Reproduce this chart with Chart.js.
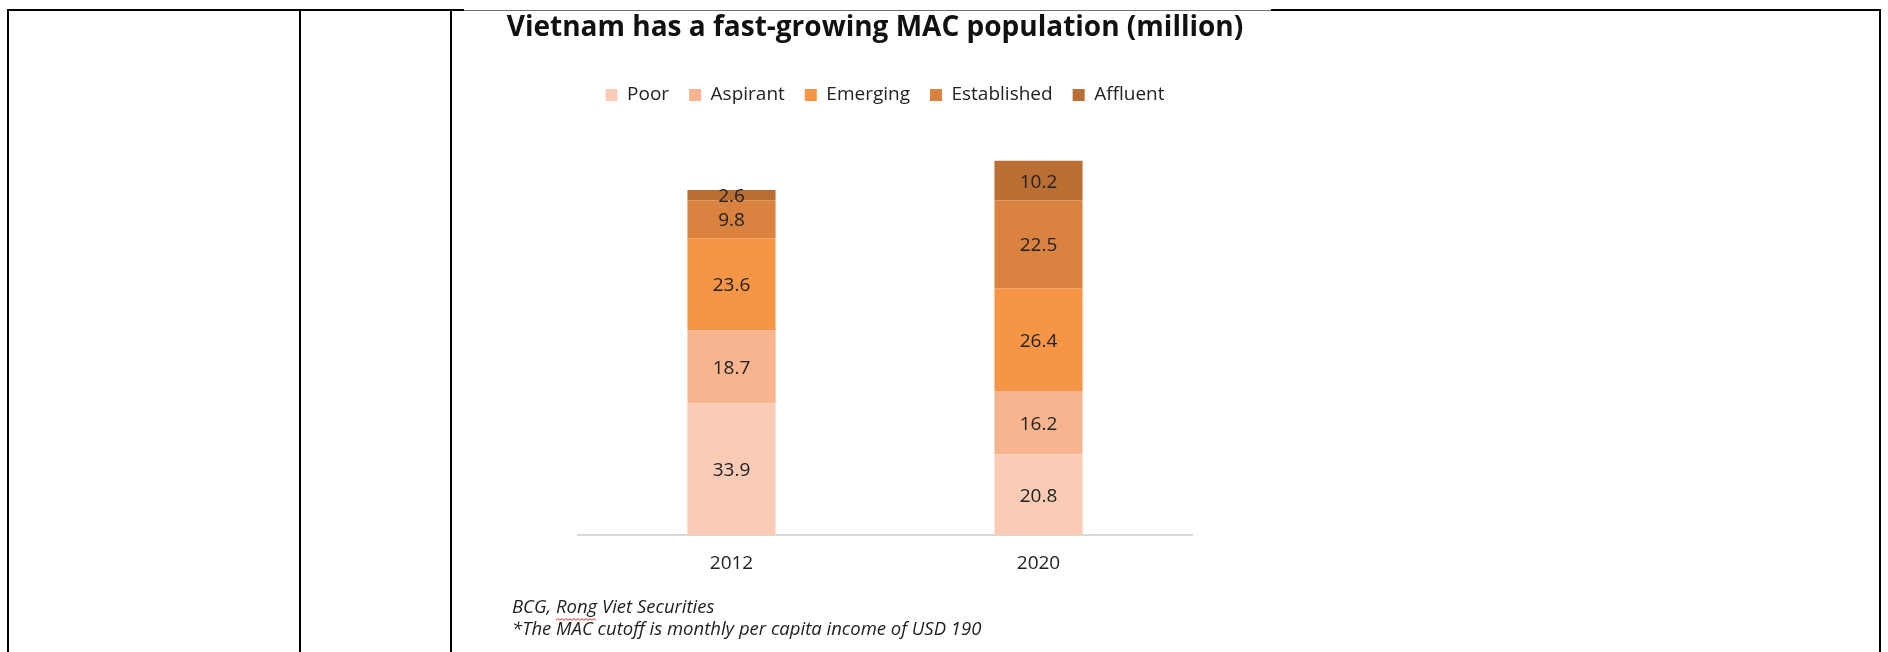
<!DOCTYPE html>
<html>
<head>
<meta charset="utf-8">
<title>Vietnam MAC population</title>
<script src="https://cdn.jsdelivr.net/npm/chart.js@4.4.1/dist/chart.umd.min.js"></script>
<style>
    html, body { margin: 0; padding: 0; background: #fff; }
    body { width: 1888px; height: 652px; position: relative; overflow: hidden; }
    .rule { position: absolute; background: #000; }
    #chartBox { position: absolute; left: 464px; top: 11px; width: 807px; height: 641px; background: #fff; }
</style>
</head>
<body>
<!-- table borders around the pasted chart -->
<div class="rule" style="left:7px;top:9px;width:457px;height:2px"></div>
<div class="rule" style="left:1271px;top:9px;width:610px;height:2px"></div>
<div class="rule" style="left:464px;top:10px;width:807px;height:1px;background:#707070"></div>
<div class="rule" style="left:7px;top:9px;width:2px;height:643px"></div>
<div class="rule" style="left:299px;top:9px;width:2px;height:643px"></div>
<div class="rule" style="left:450px;top:9px;width:2px;height:643px"></div>
<div class="rule" style="left:1879px;top:9px;width:2px;height:643px"></div>

<div id="chartBox"><canvas id="macChart"></canvas></div>

<script>
// Data
const categories = ['2012', '2020'];
const segmentNames = ['Poor', 'Aspirant', 'Emerging', 'Established', 'Affluent'];
const poor = [33.9, 20.8];
const aspirant = [18.7, 16.2];
const emerging = [23.6, 26.4];
const established = [9.8, 22.5];
const affluent = [2.6, 10.2];
const titleText = 'Vietnam has a fast-growing MAC population (million)';
const sourceNotes = ['BCG, Rong Viet Securities', '*The MAC cutoff is monthly per capita income of USD 190'];

// Styles
const segmentColors = ['#FACCB6', '#F8B48E', '#F59545', '#DA8340', '#B96F34'];
const fontFamily = '"Open Sans", "Noto Sans", sans-serif';
const textColor = '#222';

// Values written in the middle of every stacked segment
const segmentLabels = {
    id: 'segmentLabels',
    afterDatasetsDraw(chart) {
        const ctx = chart.ctx;
        ctx.save();
        ctx.font = '19px ' + fontFamily;
        ctx.fillStyle = textColor;
        ctx.textAlign = 'center';
        ctx.textBaseline = 'middle';
        chart.data.datasets.forEach(function(ds, i) {
            chart.getDatasetMeta(i).data.forEach(function(bar, j) {
                const mid = (bar.y + bar.base) / 2;
                ctx.fillText(ds.data[j].toFixed(1), bar.x, mid + 1.5);
            });
        });
        ctx.restore();
    }
};

// Source lines under the axis
const sourceFootnote = {
    id: 'sourceFootnote',
    afterDraw(chart) {
        const ctx = chart.ctx;
        const area = chart.chartArea;
        const x = area.left - 66;
        const top = area.bottom + 73;
        ctx.save();
        ctx.font = 'italic 18.5px ' + fontFamily;
        ctx.fillStyle = textColor;
        ctx.textAlign = 'left';
        ctx.textBaseline = 'middle';
        sourceNotes.forEach(function(line, i) {
            ctx.fillText(line, x, top + i * 22);
        });

        // spell-check squiggle under "Rong"
        const start = x + ctx.measureText('BCG, ').width;
        const end = start + ctx.measureText('Rong').width;
        const y = top + 12;
        ctx.strokeStyle = '#e03030';
        ctx.lineWidth = 1;
        ctx.beginPath();
        ctx.moveTo(start, y);
        let up = true;
        for (let px = start + 2; px <= end; px += 2) {
            ctx.lineTo(px, up ? y - 1.5 : y);
            up = !up;
        }
        ctx.stroke();
        ctx.restore();
    }
};

function drawChart() {
    const series = [poor, aspirant, emerging, established, affluent];
    const datasets = series.map(function(values, i) {
        return {
            label: segmentNames[i],
            data: values,
            backgroundColor: segmentColors[i],
            borderWidth: 0,
            barPercentage: 1,
            categoryPercentage: 0.287
        };
    });

    new Chart(document.getElementById('macChart'), {
        type: 'bar',
        data: { labels: categories, datasets: datasets },
        plugins: [segmentLabels, sourceFootnote],
        options: {
            responsive: true,
            maintainAspectRatio: false,
            animation: false,
            layout: { padding: { top: 0, left: 41, right: 26, bottom: 60 } },
            plugins: {
                title: {
                    display: true,
                    text: titleText,
                    color: '#111',
                    font: { family: fontFamily, size: 28, weight: 'bold', lineHeight: 1 },
                    padding: { top: 3, bottom: 23.5 }
                },
                legend: {
                    display: true,
                    position: 'top',
                    fullSize: false,
                    labels: {
                        boxWidth: 12,
                        boxHeight: 12,
                        padding: 20,
                        color: textColor,
                        font: { family: fontFamily, size: 19 }
                    }
                },
                tooltip: { enabled: false }
            },
            scales: {
                x: {
                    stacked: true,
                    grid: { display: false, drawTicks: false },
                    border: { display: true, color: '#d9d9d9', width: 2 },
                    ticks: { color: textColor, padding: 17, font: { family: fontFamily, size: 19 } }
                },
                y: {
                    stacked: true,
                    min: 0,
                    max: 108,
                    grid: { display: false, drawTicks: false },
                    border: { display: false },
                    ticks: { display: false },
                    afterFit: function(scale) { scale.width = 73; }
                },
                // empty margin on the right so the plot sits where the original does
                yRight: {
                    position: 'right',
                    grid: { display: false, drawTicks: false },
                    border: { display: false },
                    ticks: { display: false },
                    afterFit: function(scale) { scale.width = 53; }
                }
            }
        }
    });
}

if (document.fonts && document.fonts.load) {
    Promise.all([
        document.fonts.load('bold 28px "Open Sans"'),
        document.fonts.load('19px "Open Sans"'),
        document.fonts.load('italic 18.5px "Open Sans"')
    ]).then(drawChart, drawChart);
} else {
    drawChart();
}
</script>
</body>
</html>
